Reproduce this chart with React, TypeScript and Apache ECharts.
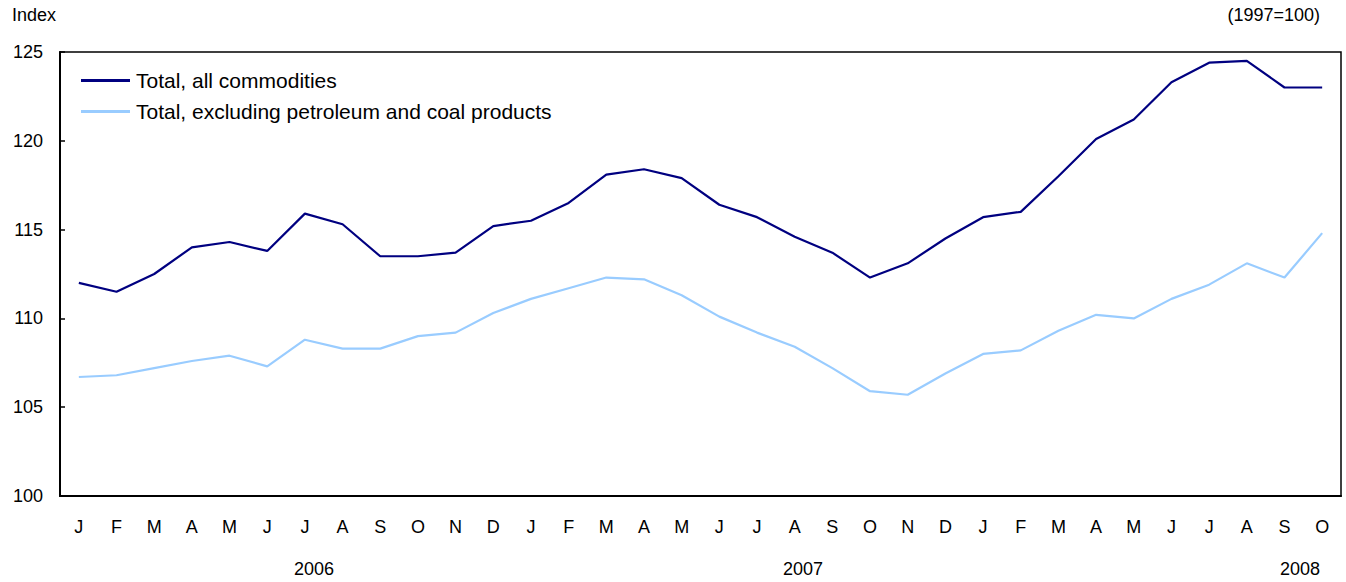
import React, { useEffect, useRef } from "react";
import * as echarts from "echarts";

const months = [
  "J","F","M","A","M","J","J","A","S","O","N","D",
  "J","F","M","A","M","J","J","A","S","O","N","D",
  "J","F","M","A","M","J","J","A","S","O",
];

const totalAll = [
  112.0, 111.5, 112.5, 114.0, 114.3, 113.8, 115.9, 115.3, 113.5, 113.5, 113.7, 115.2,
  115.5, 116.5, 118.1, 118.4, 117.9, 116.4, 115.7, 114.6, 113.7, 112.3, 113.1, 114.5,
  115.7, 116.0, 118.0, 120.1, 121.2, 123.3, 124.4, 124.5, 123.0, 123.0,
];

const totalExPetroleum = [
  106.7, 106.8, 107.2, 107.6, 107.9, 107.3, 108.8, 108.3, 108.3, 109.0, 109.2, 110.3,
  111.1, 111.7, 112.3, 112.2, 111.3, 110.1, 109.2, 108.4, 107.2, 105.9, 105.7, 106.9,
  108.0, 108.2, 109.3, 110.2, 110.0, 111.1, 111.9, 113.1, 112.3, 114.8,
];

const yearLabels = ["2006", "2007", "2008"];
const seriesNames = ["Total, all commodities", "Total, excluding petroleum and coal products"];

const FONT = "Liberation Sans, Arial, Helvetica, sans-serif";

export default function App() {
  const ref = useRef<HTMLDivElement>(null);
  useEffect(() => {
    if (!ref.current) return;
    const chart = echarts.init(ref.current, null, { renderer: "svg" });
    chart.setOption({
      animation: false,
      backgroundColor: "#ffffff",
      textStyle: { fontFamily: FONT },
      grid: {
        left: 60,
        right: 5,
        top: 52,
        bottom: 86,
        show: true,
        borderColor: "#000",
        borderWidth: 1.5,
        containLabel: false,
      },
      legend: {
        orient: "vertical",
        left: 81,
        top: 70,
        padding: 0,
        icon: "rect",
        itemWidth: 49,
        itemHeight: 3,
        itemGap: 10,
        textStyle: { fontFamily: FONT, fontSize: 21, color: "#000", padding: [0, 0, 0, 1] },
        data: seriesNames,
      },
      xAxis: {
        type: "category",
        data: months,
        boundaryGap: true,
        axisLine: { lineStyle: { color: "#000", width: 2 } },
        axisTick: { inside: true, length: 6, lineStyle: { color: "#000", width: 1.5 } },
        axisLabel: { color: "#000", fontSize: 18, fontFamily: FONT, margin: 22, interval: 0 },
      },
      yAxis: {
        type: "value",
        min: 100,
        max: 125,
        interval: 5,
        splitLine: { show: false },
        axisLine: { show: true, lineStyle: { color: "#000", width: 2 } },
        axisTick: { show: true, inside: true, length: 5, lineStyle: { color: "#000", width: 1.5 } },
        axisLabel: { color: "#000", fontSize: 18, fontFamily: FONT, margin: 17 },
      },
      graphic: [
        { type: "text", left: 12, top: 6, style: { text: "Index", fontSize: 18, fontFamily: FONT, fill: "#000" } },
        { type: "text", right: 26, top: 6, style: { text: "(1997=100)", fontSize: 18, fontFamily: FONT, fill: "#000" } },
        { type: "text", x: 314, y: 569, style: { text: yearLabels[0], fontSize: 18, fontFamily: FONT, fill: "#000", align: "center", verticalAlign: "middle" } },
        { type: "text", x: 803, y: 569, style: { text: yearLabels[1], fontSize: 18, fontFamily: FONT, fill: "#000", align: "center", verticalAlign: "middle" } },
        { type: "text", x: 1300, y: 569, style: { text: yearLabels[2], fontSize: 18, fontFamily: FONT, fill: "#000", align: "center", verticalAlign: "middle" } },
      ],
      series: [
        {
          name: seriesNames[0],
          type: "line",
          data: totalAll,
          symbol: "none",
          lineStyle: { color: "#000080", width: 2.2 },
          itemStyle: { color: "#000080" },
        },
        {
          name: seriesNames[1],
          type: "line",
          data: totalExPetroleum,
          symbol: "none",
          lineStyle: { color: "#99ccff", width: 2.2 },
          itemStyle: { color: "#99ccff" },
        },
      ],
    });
    return () => chart.dispose();
  }, []);
  return (
    <div
      ref={ref}
      style={{ position: "absolute", left: 0, top: 0, width: 1346, height: 582 }}
    />
  );
}
